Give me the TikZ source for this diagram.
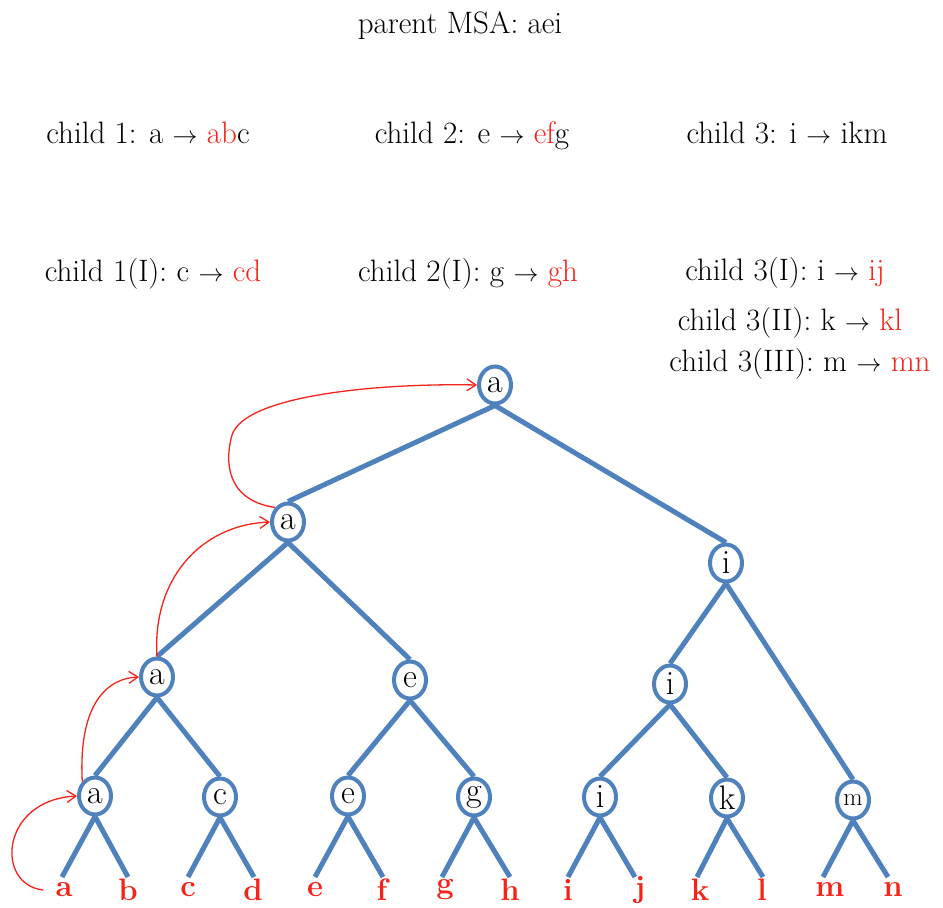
\documentclass[tikz,border=0pt]{standalone}
\usepackage{fontspec}
\usetikzlibrary{shapes.geometric,arrows.meta,backgrounds}
\definecolor{treeblue}{RGB}{79,129,189}
\definecolor{hlred}{RGB}{245,35,25}
\newcommand{\hl}[1]{\textcolor{hlred}{#1}}
\newcommand{\ra}{$\rightarrow$}

\begin{document}
\begin{tikzpicture}[x=1pt,y=-1pt,
  tnode/.style={ellipse, draw=treeblue, line width=4pt, fill=white, inner sep=0pt,
                minimum width=32pt, minimum height=37pt, font=\fontsize{34}{38}\selectfont},
  branch/.style={draw=treeblue, line width=5pt},
  leaf/.style={text=hlred, inner sep=0pt, font=\fontsize{31}{35}\selectfont\bfseries},
  caption/.style={anchor=base, inner sep=0pt, font=\fontsize{31}{36}\selectfont},
  climb/.style={draw=hlred, line width=1.3pt, -{Straight Barb[length=9pt,width=12pt]}}]
\useasboundingbox (0,0) rectangle (943,908);

% rewriting rules
\node[caption] (parent) at (460,33) {parent MSA: aei};
\node[caption] (c1)   at (148,143) {child 1: a \ra{} \hl{ab}c};
\node[caption] (c2)   at (472,143) {child 2: e \ra{} \hl{ef}g};
\node[caption] (c3)   at (787,143) {child 3: i \ra{} ikm};
\node[caption] (c1a)  at (153,281) {child 1(I): c \ra{} \hl{cd}};
\node[caption] (c2a)  at (468,281) {child 2(I): g \ra{} \hl{gh}};
\node[caption] (c3a)  at (785,280) {child 3(I): i \ra{} \hl{ij}};
\node[caption] (c3b)  at (790,330) {child 3(II): k \ra{} \hl{kl}};
\node[caption] (c3c)  at (800,371) {child 3(III): m \ra{} \hl{mn}};

% tree nodes
\node[tnode] (r)   at (495,385) {a};
\node[tnode] (l1a) at (288,522) {a};
\node[tnode] (l1i) at (726,563) {i};
\node[tnode] (l2a) at (157,677) {a};
\node[tnode] (l2e) at (410,680) {e};
\node[tnode] (l2i) at (670,684) {i};
\node[tnode] (l3a) at (95,796)  {a};
\node[tnode] (l3c) at (220,797) {c};
\node[tnode] (l3e) at (348,796) {e};
\node[tnode] (l3g) at (474,797) {g};
\node[tnode] (l3i) at (600,797) {i};
\node[tnode] (l3k) at (727,798) {k};
\node[tnode, font=\fontsize{25}{28}\selectfont] (l3m) at (853,800) {m};

% leaf branch ends
\foreach \n/\x in {a/62,b/128,c/188,d/254,e/315,f/383,g/442,h/510,i/568,j/635,k/697,l/763,m/823,n/888}
  \coordinate (e\n) at (\x,877);

% leaf labels
\foreach \n/\x in {a/64,b/128,c/188,d/253,e/315,f/382,g/445,h/510,i/568,j/640,k/700,l/762,m/830,n/893}
  \node[leaf] (t\n) at (\x,890) {\n};

\begin{pgfonlayer}{background}
  \draw[branch] (r.south) -- (l1a.north);
  \draw[branch] (r.south) -- (l1i.north);
  \draw[branch] (l1a.south) -- (l2a.north);
  \draw[branch] (l1a.south) -- (l2e.north);
  \draw[branch] (l1i.south) -- (l2i.north);
  \draw[branch] (l1i.south) -- (l3m.north);
  \draw[branch] (l2a.south) -- (l3a.north);
  \draw[branch] (l2a.south) -- (l3c.north);
  \draw[branch] (l2e.south) -- (l3e.north);
  \draw[branch] (l2e.south) -- (l3g.north);
  \draw[branch] (l2i.south) -- (l3i.north);
  \draw[branch] (l2i.south) -- (l3k.north);
  \draw[branch] (l3a.south) -- (ea);  \draw[branch] (l3a.south) -- (eb);
  \draw[branch] (l3c.south) -- (ec);  \draw[branch] (l3c.south) -- (ed);
  \draw[branch] (l3e.south) -- (ee);  \draw[branch] (l3e.south) -- (ef);
  \draw[branch] (l3g.south) -- (eg);  \draw[branch] (l3g.south) -- (eh);
  \draw[branch] (l3i.south) -- (ei);  \draw[branch] (l3i.south) -- (ej);
  \draw[branch] (l3k.south) -- (ek);  \draw[branch] (l3k.south) -- (el);
  \draw[branch] (l3m.south) -- (em);  \draw[branch] (l3m.south) -- (en);
\end{pgfonlayer}

% path of the symbol a up to the root
\draw[climb] ([xshift=-12pt]ta.west) .. controls (-5,885) and (0,800) .. (l3a.west);
\draw[climb] (l3a.north west) .. controls (78,700) and (110,678) .. (l2a.west);
\draw[climb] (l2a.north) .. controls (152,580) and (200,525) .. (l1a.west);
\draw[climb] (l1a.north west) .. controls (225,500) and (225,460) .. (232,435)
             .. controls (245,395) and (380,383) .. (r.west);
\end{tikzpicture}
\end{document}
